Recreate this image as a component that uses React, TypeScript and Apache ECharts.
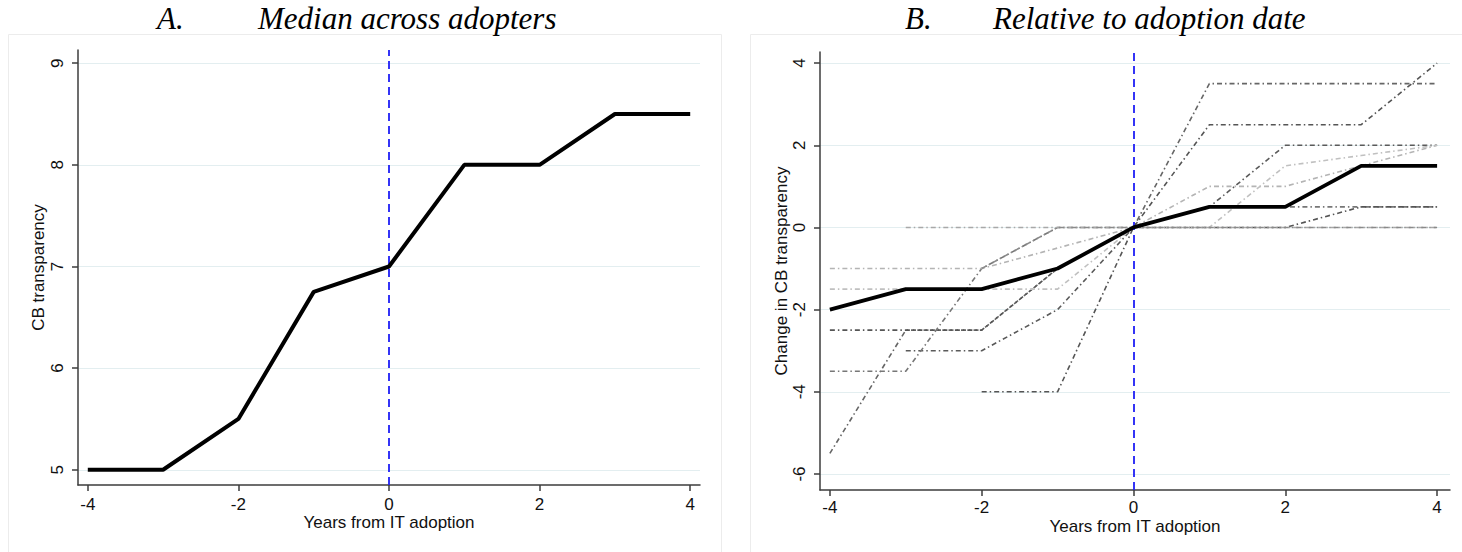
import React, { useEffect, useRef } from "react";
import * as echarts from "echarts";

const years = [-4, -3, -2, -1, 0, 1, 2, 3, 4];
const tickValuesX = [-4, -2, 0, 2, 4];
const tickValuesA = [5, 6, 7, 8, 9];
const tickValuesB = [-6, -4, -2, 0, 2, 4];

const medianA = [5, 5, 5.5, 6.75, 7, 8, 8, 8.5, 8.5];
const medianB = [-2, -1.5, -1.5, -1, 0, 0.5, 0.5, 1.5, 1.5];

const country1 = [-5.5, -2.5, -2.5, -1, 0, 3.5, 3.5, 3.5, 3.5];
const country2 = [-2.5, -2.5, -2.5, -1, 0, 2.5, 2.5, 2.5, 4];
const country3 = [null, -3, -3, -2, 0, 0.5, 2, 2, 2];
const country4 = [-3.5, -3.5, -1, 0, 0, 0.5, 0.5, 0.5, 0.5];
const country5 = [null, null, -4, -4, 0, 0, 0, 0.5, 0.5];
const country6 = [-1, -1, -1, -0.5, 0, 1, 1, 1.5, 2];
const country7 = [-1.5, -1.5, -1.5, -1.5, 0, 0, 1.5, 1.75, 2];
const country8 = [null, 0, 0, 0, 0, 0, 0, 0, 0];
const country9 = [null, null, -1, 0, 0, 0, 0, 0, 0];

const countries = [country1, country2, country3, country4, country5, country6, country7, country8, country9];
const countryColors = ["#666666", "#555555", "#5a5a5a", "#777777", "#555555", "#b4b4b4", "#c0c0c0", "#a8a8a8", "#8a8a8a"];

const titleA = ["A.", "Median across adopters"];
const titleB = ["B.", "Relative to adoption date"];
const xName = "Years from IT adoption";
const yNameA = "CB transparency";
const yNameB = "Change in CB transparency";

const FONT = "Liberation Sans";
const SERIF = "Liberation Serif";

function pairs(vals: (number | null)[]) {
  return years.map((x, i) => [x, vals[i]]);
}

export default function App() {
  const ref = useRef<HTMLDivElement>(null);
  useEffect(() => {
    const chart = echarts.init(ref.current!, null, { renderer: "svg" });
    const axisLineStyle = { color: "#3c3c3c", width: 1.5 };
    const gridLine = { show: true, lineStyle: { color: "#e3eef0", width: 1.2 } };
    const xAxisBase = (gridIndex: number, max: number, nameGap: number, labelMargin: number) => ({
      type: "value",
      gridIndex,
      min: -4.13,
      max,
      name: xName,
      nameLocation: "middle",
      nameGap,
      nameMoveOverlap: false,
      nameTextStyle: { fontFamily: FONT, fontSize: 17, color: "#111", verticalAlign: "middle" },
      axisLine: { show: true, onZero: false, lineStyle: axisLineStyle },
      axisTick: { show: true, length: 6, lineStyle: axisLineStyle, customValues: tickValuesX },
      axisLabel: { customValues: tickValuesX, fontFamily: FONT, fontSize: 17, color: "#111", margin: labelMargin },
      splitLine: { show: false },
    });
    const yAxisBase = (gridIndex: number, min: number, max: number, ticks: number[], name: string, nameGap: number) => ({
      type: "value",
      gridIndex,
      min,
      max,
      name,
      nameLocation: "middle",
      nameGap,
      nameRotate: 90,
      nameTextStyle: { fontFamily: FONT, fontSize: 17, color: "#111" },
      axisLine: { show: true, onZero: false, lineStyle: axisLineStyle },
      axisTick: { show: true, length: 6, lineStyle: axisLineStyle, customValues: ticks },
      axisLabel: { customValues: ticks, rotate: 90, fontFamily: FONT, fontSize: 17, color: "#111", margin: 12 },
      splitLine: gridLine,
    });
    const vline = {
      silent: true,
      symbol: "none",
      label: { show: false },
      lineStyle: { color: "#1f1ff5", width: 1.8, type: [8, 5] },
      data: [{ xAxis: 0 }],
    };
    const countrySeries = countries.map((c, i) => ({
      type: "line",
      xAxisIndex: 1,
      yAxisIndex: 1,
      data: pairs(c),
      symbol: "none",
      connectNulls: false,
      z: 2,
      lineStyle: { color: countryColors[i], width: 1.6, type: [5, 3, 1.5, 3] },
    }));
    const titleFont = `italic 31px "${SERIF}"`;
    chart.setOption({
      animation: false,
      backgroundColor: "#ffffff",
      grid: [
        { left: 78, top: 50, width: 622, height: 435 },
        { left: 820, top: 52, width: 630, height: 438 },
      ],
      xAxis: [xAxisBase(0, 4.13, 37, 11), xAxisBase(1, 4.17, 36, 9)],
      yAxis: [
        yAxisBase(0, 4.85, 9.13, tickValuesA, yNameA, 31),
        yAxisBase(1, -6.39, 4.27, tickValuesB, yNameB, 29),
      ],
      graphic: [
        { type: "rect", silent: true, shape: { x: 8.5, y: 34.5, width: 713, height: 540 }, style: { fill: "none", stroke: "#ececec", lineWidth: 1 } },
        { type: "rect", silent: true, shape: { x: 750.5, y: 34.5, width: 740, height: 540 }, style: { fill: "none", stroke: "#ececec", lineWidth: 1 } },
        { type: "text", x: 157, y: 18, style: { text: titleA[0], font: titleFont, fill: "#000", verticalAlign: "middle" } },
        { type: "text", x: 258, y: 18, style: { text: titleA[1], font: titleFont, fill: "#000", verticalAlign: "middle" } },
        { type: "text", x: 905, y: 18, style: { text: titleB[0], font: titleFont, fill: "#000", verticalAlign: "middle" } },
        { type: "text", x: 993, y: 18, style: { text: titleB[1], font: titleFont, fill: "#000", verticalAlign: "middle" } },
      ],
      series: [
        {
          type: "line",
          xAxisIndex: 0,
          yAxisIndex: 0,
          data: pairs(medianA),
          symbol: "none",
          z: 5,
          lineStyle: { color: "#000", width: 4 },
          markLine: vline,
        },
        ...countrySeries,
        {
          type: "line",
          xAxisIndex: 1,
          yAxisIndex: 1,
          data: pairs(medianB),
          symbol: "none",
          z: 5,
          lineStyle: { color: "#000", width: 3.8 },
          markLine: vline,
        },
      ],
    });
    return () => chart.dispose();
  }, []);
  return <div ref={ref} style={{ position: "absolute", left: 0, top: 0, width: 1462, height: 552 }} />;
}
